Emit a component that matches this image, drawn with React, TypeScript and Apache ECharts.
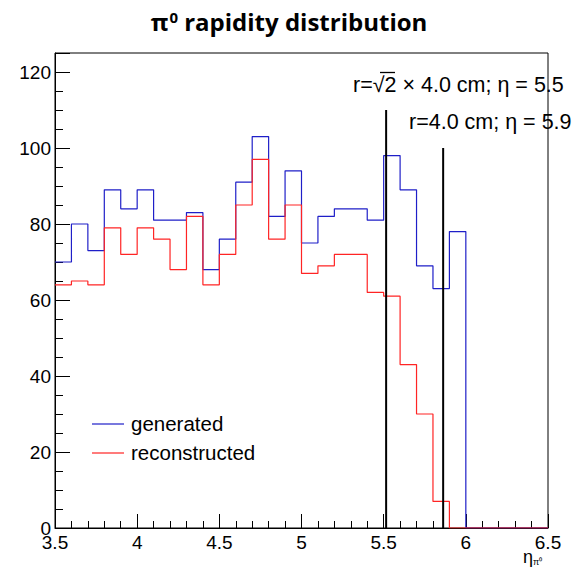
import React, { useEffect, useRef } from 'react';
import * as echarts from 'echarts';

// Bin edges (width 0.1) from 3.5 to 6.5
const binEdges = [
  3.5, 3.6, 3.7, 3.8, 3.9, 4.0, 4.1, 4.2, 4.3, 4.4,
  4.5, 4.6, 4.7, 4.8, 4.9, 5.0, 5.1, 5.2, 5.3, 5.4,
  5.5, 5.6, 5.7, 5.8, 5.9, 6.0, 6.1, 6.2, 6.3, 6.4, 6.5,
];
const generated = [
  70, 80, 73, 89, 84, 89, 81, 81, 83, 68,
  76, 91, 103, 82, 94, 75, 82, 84, 84, 81,
  98, 89, 69, 63, 78, 0, 0, 0, 0, 0,
];
const reconstructed = [
  64, 65, 64, 79, 72, 79, 76, 68, 82, 64,
  72, 85, 97, 76, 85, 67, 69, 72, 72, 62,
  61, 43, 30, 7, 0, 0, 0, 0, 0, 0,
];
const cutEta = [5.515, 5.862];
const cutHeight = [110, 100];
const cutLabels = ['r=√2 × 4.0 cm; η = 5.5', 'r=4.0 cm; η = 5.9'];
const xTicks = { min: 3.5, max: 6.5, interval: 0.5 };
const yTicks = { min: 0, max: 125, interval: 20 };

const FONT = '"Liberation Sans", Arial, Helvetica, sans-serif';
const BLUE = '#1f1fc8';
const RED = '#ff2424';

function stepData(values: number[]) {
  return binEdges.map((e, i) => [e, values[Math.min(i, values.length - 1)]]);
}

export default function App() {
  const ref = useRef<HTMLDivElement>(null);
  useEffect(() => {
    if (!ref.current) return;
    const chart = echarts.init(ref.current, undefined, { renderer: 'svg' });
    const labelStyle = { color: '#000', fontSize: 19, fontFamily: FONT };
    const option: any = {
      animation: false,
      backgroundColor: '#fff',
      grid: {
        left: 55, right: 29, top: 53, bottom: 41,
        show: true, borderColor: '#000', borderWidth: 1, backgroundColor: 'transparent',
      },
      xAxis: {
        type: 'value',
        min: xTicks.min, max: xTicks.max, interval: xTicks.interval,
        axisLine: { show: true, lineStyle: { color: '#000', width: 1 } },
        axisTick: { show: true, inside: true, length: 14, lineStyle: { color: '#000' } },
        minorTick: { show: true, splitNumber: 5, length: 7, lineStyle: { color: '#000' } },
        splitLine: { show: false },
        axisLabel: { ...labelStyle, margin: 5, showMinLabel: true, showMaxLabel: true },
      },
      yAxis: [
        {
          type: 'value',
          min: yTicks.min, max: yTicks.max, interval: 5,
          axisLine: { show: true, lineStyle: { color: '#000', width: 1 } },
          axisTick: { show: true, inside: true, length: 8, lineStyle: { color: '#000' } },
          splitLine: { show: false },
          axisLabel: {
            ...labelStyle, margin: 4, showMinLabel: true, showMaxLabel: true,
            formatter: (v: number) => (v % yTicks.interval === 0 && v <= 120 ? String(v) : ''),
          },
        },
        {
          type: 'value', position: 'left',
          min: yTicks.min, max: yTicks.max, interval: yTicks.interval,
          axisLine: { show: false },
          axisTick: { show: true, inside: true, length: 15, lineStyle: { color: '#000' } },
          splitLine: { show: false },
          axisLabel: { show: false },
        },
      ],
      series: [
        {
          name: 'generated', type: 'line', step: 'end', symbol: 'none',
          data: stepData(generated),
          lineStyle: { color: BLUE, width: 1.2 },
          z: 3,
        },
        {
          name: 'reconstructed', type: 'line', step: 'end', symbol: 'none',
          data: stepData(reconstructed),
          lineStyle: { color: RED, width: 1.2 },
          z: 4,
        },
        ...cutEta.map((eta, i) => ({
          name: 'cut' + i, type: 'line', symbol: 'none',
          data: [[eta, 0], [eta, cutHeight[i]]],
          lineStyle: { color: '#000', width: 2 },
          z: 5,
        })),
      ],
      graphic: [
        {
          type: 'text', x: 289, y: 21,
          style: {
            text: '{a|π}{s|0}{a| rapidity distribution}',
            align: 'center', verticalAlign: 'middle',
            rich: {
              a: { fontSize: 24, fontWeight: 'bold', fontFamily: '"Open Sans", sans-serif', fill: '#000', verticalAlign: 'bottom' },
              s: { fontSize: 15, fontWeight: 'bold', fontFamily: '"Open Sans", sans-serif', fill: '#000', verticalAlign: 'top', padding: [0, 0, 8, 1] },
            },
          },
        },
        {
          type: 'text', x: 353, y: 85,
          style: { text: cutLabels[0], font: `21.5px ${FONT}`, fill: '#000', align: 'left', verticalAlign: 'middle' },
        },
        {
          type: 'line', shape: { x1: 380, y1: 72.5, x2: 395, y2: 72.5 },
          style: { stroke: '#000', lineWidth: 1.3 },
        },
        {
          type: 'text', x: 409, y: 122,
          style: { text: cutLabels[1], font: `21.5px ${FONT}`, fill: '#000', align: 'left', verticalAlign: 'middle' },
        },
        {
          type: 'line', shape: { x1: 92, y1: 424, x2: 124, y2: 424 },
          style: { stroke: BLUE, lineWidth: 1.2 },
        },
        {
          type: 'text', x: 131, y: 423,
          style: { text: 'generated', font: `20.5px ${FONT}`, fill: '#000', align: 'left', verticalAlign: 'middle' },
        },
        {
          type: 'line', shape: { x1: 92, y1: 453, x2: 124, y2: 453 },
          style: { stroke: RED, lineWidth: 1.2 },
        },
        {
          type: 'text', x: 131, y: 452,
          style: { text: 'reconstructed', font: `20.5px ${FONT}`, fill: '#000', align: 'left', verticalAlign: 'middle' },
        },
        {
          type: 'text', x: 523, y: 557,
          style: {
            text: '{e|η}{s|π⁰}',
            align: 'left', verticalAlign: 'middle',
            rich: {
              e: { fontSize: 18, fontFamily: FONT, fill: '#000' },
              s: { fontSize: 9, fontFamily: FONT, fill: '#000', padding: [10, 0, 0, 0] },
            },
          },
        },
      ],
    };
    chart.setOption(option);
    return () => chart.dispose();
  }, []);
  return (
    <div
      ref={ref}
      style={{ position: 'absolute', left: 0, top: 0, width: 577, height: 569, background: '#fff' }}
    />
  );
}
